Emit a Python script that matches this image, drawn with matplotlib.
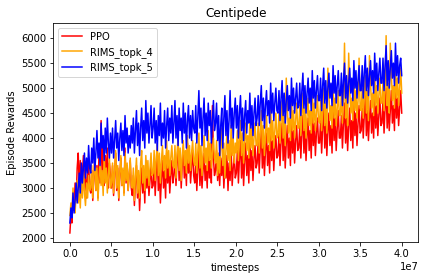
import numpy as np
import matplotlib
matplotlib.use("Agg")
import matplotlib.pyplot as plt

n_points = 320
timesteps = np.linspace(0, 4e7, n_points)

ppo = [
    2100, 2450, 2300, 2800, 2550, 3100, 2750, 3400, 3700, 3000, 3550, 2900, 3300, 3650, 2950, 3400, 2800, 3200, 3500, 3000,
    2900, 3350, 2750, 3200, 3600, 2950, 3450, 2800, 3750, 3100, 4350, 3300, 3900, 3050, 3650, 3200, 3800, 3000, 3500, 3250,
    3000, 3450, 2850, 3300, 3700, 2950, 3400, 2750, 3250, 3600, 3050, 3350, 2900, 3800, 3100, 3450, 2950, 3250, 3550, 3000,
    2850, 3250, 2650, 3100, 3450, 2800, 3200, 2550, 3050, 3400, 2900, 3250, 2700, 3550, 3000, 3350, 2850, 3150, 3450, 3000,
    3050, 3450, 2850, 3300, 3650, 2950, 3400, 2700, 3200, 3550, 3000, 3350, 2800, 3700, 3100, 3450, 2900, 3250, 3550, 3100,
    3250, 3650, 3050, 3500, 3850, 3150, 3600, 3000, 3450, 3800, 3200, 3550, 3050, 3900, 3300, 3650, 3100, 3450, 3750, 3250,
    3100, 3550, 2950, 3400, 3750, 3050, 3500, 3000, 3350, 3700, 3150, 3450, 3000, 3850, 3200, 3550, 3100, 4650, 3600, 3250,
    3350, 3750, 3150, 3550, 3050, 3600, 3250, 3700, 3000, 3450, 3200, 3650, 2950, 3500, 3150, 3800, 3050, 3400, 3650, 3200,
    3300, 3750, 3100, 3600, 3950, 3200, 3700, 3050, 3550, 3900, 3250, 3650, 3100, 4000, 3350, 3750, 3150, 3600, 3850, 3400,
    3500, 3950, 3300, 3800, 4150, 3400, 3900, 3250, 3750, 4100, 3450, 3850, 3300, 4200, 3550, 3950, 3350, 3800, 4050, 3600,
    3650, 4100, 3450, 3950, 4300, 3550, 4050, 3400, 3900, 4250, 3600, 4000, 3450, 4400, 3700, 4150, 3500, 3950, 4250, 3750,
    3800, 4250, 3600, 4100, 4450, 3700, 4200, 3550, 4050, 4400, 3750, 4150, 3600, 4500, 3850, 4300, 3650, 4100, 4400, 3900,
    3900, 4350, 3700, 4200, 4600, 3800, 4300, 3650, 4150, 4500, 3850, 4250, 3700, 4700, 3950, 4400, 3750, 4200, 4550, 4000,
    4000, 4450, 3800, 4300, 4700, 3900, 4400, 3750, 4250, 4600, 3950, 4350, 3800, 4800, 4050, 4500, 3850, 4300, 4650, 4100,
    4150, 4600, 4000, 4450, 4850, 4050, 4550, 3950, 4400, 4750, 4100, 4500, 4000, 4900, 4200, 4650, 4050, 4450, 4800, 4250,
    4300, 4750, 4100, 4600, 5000, 4200, 4700, 4150, 4550, 4950, 4300, 4650, 4150, 5150, 4400, 4800, 4250, 4600, 4950, 4500,
]

rims_topk_4 = [
    2450, 2700, 2550, 3000, 2650, 2500, 2900, 3150, 2700, 3000, 2600, 3200, 2800, 3350, 2900, 2650, 3100, 2800, 3250, 2950,
    3000, 3450, 2800, 3250, 3650, 2950, 3400, 2750, 3200, 3550, 3050, 3350, 2850, 3700, 3100, 3400, 2900, 3250, 3600, 3000,
    3100, 3500, 2900, 3350, 3750, 3000, 3450, 2800, 3300, 3650, 3050, 3400, 2850, 3700, 3150, 3500, 2950, 3300, 3600, 3050,
    3000, 3400, 2750, 3250, 3600, 2900, 3350, 2800, 3500, 3750, 3100, 3450, 2950, 3650, 3200, 3550, 3050, 3400, 3700, 3250,
    3300, 3750, 3150, 3600, 3900, 3250, 3700, 3100, 3550, 3850, 3350, 3650, 3200, 3950, 3400, 3750, 3250, 3600, 3850, 3450,
    3400, 3850, 3200, 3700, 4000, 3350, 3800, 3150, 3650, 3950, 3450, 3750, 3300, 4050, 3500, 3850, 3350, 3700, 3950, 3550,
    3450, 3900, 3300, 3750, 4100, 3400, 3850, 3250, 3700, 4050, 3500, 3800, 3350, 4150, 3550, 3900, 3400, 3750, 4000, 3600,
    3500, 3950, 3250, 3700, 3300, 3850, 4200, 3450, 3900, 3200, 3750, 4100, 3550, 3950, 3350, 4250, 3650, 4000, 3500, 3900,
    3700, 4150, 3550, 4000, 4350, 3650, 4100, 3500, 3950, 4300, 3750, 4050, 3600, 4450, 3800, 4200, 3650, 4000, 4300, 3850,
    3850, 4300, 3700, 4150, 4550, 3800, 4250, 3650, 4100, 4450, 3900, 4200, 3750, 4650, 3950, 4350, 3800, 4150, 4500, 4000,
    4050, 4500, 3900, 4350, 4750, 4000, 4450, 3850, 5200, 4650, 4100, 4400, 3950, 4850, 4150, 4550, 4000, 4350, 4700, 4200,
    4200, 4650, 4050, 4500, 4900, 4150, 4600, 4000, 4450, 4800, 4250, 4550, 4100, 5000, 4300, 4700, 4150, 4500, 4850, 4350,
    4300, 4750, 4150, 4600, 5000, 4250, 4700, 4100, 5400, 4900, 4350, 4650, 4200, 5100, 4400, 4800, 4250, 4600, 4950, 4450,
    4450, 4900, 4300, 4750, 5900, 4400, 4850, 4250, 5700, 5000, 4500, 4800, 4350, 5200, 4550, 4950, 4400, 4750, 5600, 4600,
    4550, 5000, 4400, 4850, 5250, 4500, 4950, 4350, 5650, 5150, 4600, 4900, 4450, 5350, 4650, 5050, 4500, 4850, 5200, 4700,
    4700, 5150, 4550, 5000, 6050, 4650, 5100, 4500, 5900, 5300, 4750, 5050, 4600, 5500, 4800, 5200, 4650, 5000, 5400, 4900,
]

rims_topk_5 = [
    2300, 2600, 2400, 2900, 2500, 2750, 3100, 2700, 3000, 3300, 2900, 3500, 3100, 3400, 3700, 3200, 3600, 3300, 3850, 3400,
    3300, 3800, 3500, 4000, 3350, 3700, 4150, 3600, 3900, 3450, 4300, 3800, 4050, 3550, 4200, 3700, 4400, 3900, 3600, 4100,
    3700, 4200, 3600, 3950, 4350, 3800, 4100, 3550, 4000, 4300, 3750, 4150, 3650, 4450, 3900, 4200, 3700, 4050, 3800, 4250,
    3900, 4400, 3700, 4150, 4550, 3850, 4300, 3650, 4200, 4600, 3950, 4350, 3800, 4750, 4100, 4500, 3900, 4250, 4650, 4000,
    4200, 4600, 3900, 4350, 3750, 4450, 4050, 4700, 3850, 4300, 4000, 4550, 3800, 4250, 4600, 3950, 4400, 4100, 4650, 3900,
    4300, 4750, 4000, 4450, 3850, 4600, 4150, 4400, 3900, 4700, 4100, 4500, 3800, 4350, 4650, 4000, 4450, 3950, 4550, 4200,
    4100, 4650, 3900, 4450, 4950, 4200, 4600, 3850, 4400, 4800, 4050, 4500, 3950, 4700, 4250, 4550, 3900, 4350, 4750, 4150,
    4300, 4700, 3950, 4450, 3650, 4250, 4600, 3800, 4400, 4850, 4050, 4550, 3900, 4350, 4950, 4200, 4600, 4000, 4500, 4800,
    4200, 4650, 4000, 4500, 4850, 4150, 4600, 3950, 4450, 4750, 4100, 4550, 4300, 4900, 4200, 4650, 4050, 4500, 4800, 4250,
    4400, 4850, 4250, 4700, 5050, 4350, 4800, 4200, 4650, 4950, 4450, 4750, 4300, 5100, 4500, 4900, 4350, 4700, 5000, 4550,
    4500, 4950, 4350, 4800, 5150, 4450, 4900, 4300, 4750, 5050, 4550, 4850, 4400, 5200, 4650, 5000, 4500, 4800, 5100, 4600,
    4650, 5100, 4450, 4950, 5300, 4600, 5050, 4500, 4900, 5200, 4700, 5000, 4550, 5350, 4800, 5150, 4600, 4950, 5250, 4750,
    4750, 5200, 4550, 5050, 5400, 4700, 5150, 4600, 5000, 5300, 4800, 5100, 4650, 5450, 4900, 5250, 4700, 5050, 5350, 4850,
    4850, 5300, 4650, 5150, 5500, 4800, 5250, 4700, 5100, 5400, 4900, 5200, 4750, 5550, 5000, 5350, 4800, 5150, 5450, 4950,
    4950, 5450, 4800, 5300, 5650, 4950, 5400, 4850, 5250, 5550, 5050, 5350, 4900, 5700, 5150, 5500, 4950, 5300, 5600, 5100,
    5100, 5600, 4950, 5450, 5850, 5050, 5550, 5000, 5400, 5750, 5200, 5500, 5050, 5900, 5250, 5650, 5100, 5450, 5600, 5250,
]

fig = plt.figure(figsize=(424 / 72, 280 / 72), dpi=72)
ax = fig.add_axes([0.1257, 0.1368, 0.8609, 0.7822])
ax.plot(timesteps, ppo, color="red", label="PPO")
ax.plot(timesteps, rims_topk_4, color="orange", label="RIMS_topk_4")
ax.plot(timesteps, rims_topk_5, color="blue", label="RIMS_topk_5")
ax.set_title("Centipede")
ax.set_xlabel("timesteps")
ax.set_ylabel("Episode Rewards")
ax.set_xlim(-2e6, 4.2e7)
ax.set_ylim(1925, 6310)
ax.legend(loc="upper left")
fig.savefig("out.png", dpi=72)
